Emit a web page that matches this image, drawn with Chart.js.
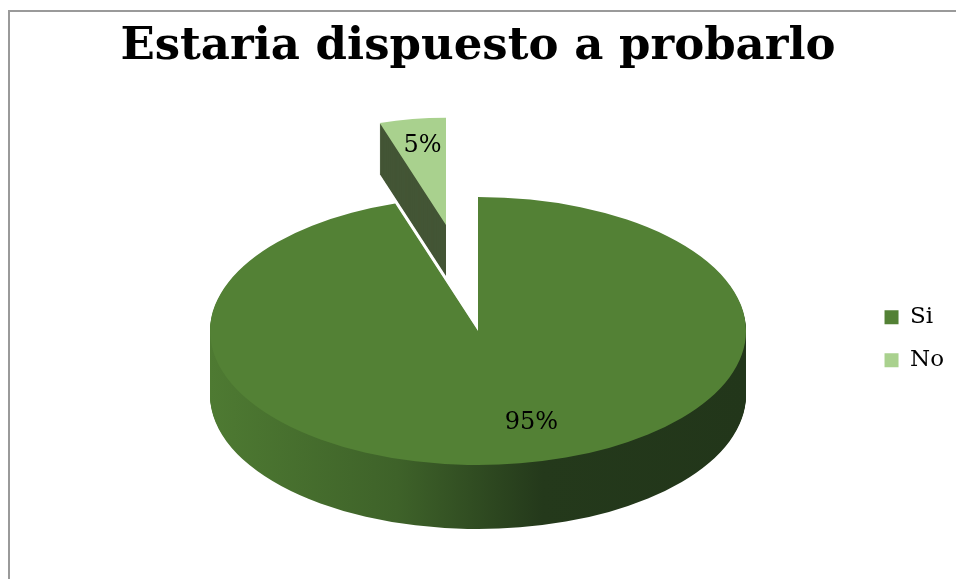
<!DOCTYPE html>
<html>
<head>
<meta charset="utf-8">
<script src="https://cdn.jsdelivr.net/npm/chart.js@4/dist/chart.umd.min.js"></script>
<style>
  html, body { margin: 0; padding: 0; background: #ffffff; overflow: hidden; }
  canvas { display: block; }
</style>
</head>
<body>
<canvas id="c" width="956" height="579"></canvas>
<script>
// ---- data ----
const categories = ['Si', 'No'];
const values = [95, 5];
const chartTitle = 'Estaria dispuesto a probarlo';

// ---- styles ----
const topColors = ['#538135', '#A9D18E'];
const FONT = 'DejaVu Serif';
const VIEW = { cx: 478, cy: 331, rx: 268, ry: 134, depth: 64 };
const explode = [[0, 0], [-32, -106]];
const perspective = [1, 0.8];
const labelRadius = [0.75, 0.7];
const labelShift = [[22, -7], [0, -5]];

const frame = {
  id: 'frame',
  beforeDraw(chart) {
    const ctx = chart.ctx;
    ctx.save();
    ctx.fillStyle = '#ffffff';
    ctx.fillRect(0, 0, chart.width, chart.height);
    ctx.strokeStyle = '#9a9a9a';
    ctx.lineWidth = 2;
    ctx.strokeRect(9, 11, 2000, 2000);
    ctx.restore();
  }
};

function drawMapped(ctx, arc, i, fill, dy) {
  const R = arc.outerRadius;
  const k = perspective[i];
  ctx.save();
  ctx.translate(VIEW.cx + explode[i][0], VIEW.cy + explode[i][1] + dy);
  ctx.scale(k * VIEW.rx / R, k * VIEW.ry / R);
  ctx.translate(-arc.x, -arc.y);
  const proxy = Object.create(arc);
  proxy.options = Object.assign({}, arc.options, { backgroundColor: fill, borderWidth: 0 });
  arc.draw.call(proxy, ctx);
  ctx.restore();
}

const pie3d = {
  id: 'pie3d',
  beforeDatasetsDraw(chart) {
    const ctx = chart.ctx;
    const meta = chart.getDatasetMeta(0);
    meta.data.forEach((arc, i) => {
      const R = arc.outerRadius;
      let sideFill;
      if (i === 0) {
        const g = ctx.createLinearGradient(arc.x - R, 0, arc.x + R, 0);
        g.addColorStop(0, '#4e7a32');
        g.addColorStop(0.35, '#3e6229');
        g.addColorStop(0.62, '#24391b');
        g.addColorStop(1, '#22361a');
        sideFill = g;
      } else {
        sideFill = '#435535';
      }
      const depth = Math.round(VIEW.depth * perspective[i]);
      for (let d = depth; d >= 1; d--) {
        drawMapped(ctx, arc, i, sideFill, d);
      }
      drawMapped(ctx, arc, i, topColors[i], 0);
    });
    // labels
    const total = values.reduce((a, b) => a + b, 0);
    ctx.save();
    ctx.fillStyle = '#000000';
    ctx.font = '24px "' + FONT + '"';
    ctx.textAlign = 'center';
    ctx.textBaseline = 'middle';
    meta.data.forEach((arc, i) => {
      const R = arc.outerRadius;
      const k = perspective[i];
      const mid = (arc.startAngle + arc.endAngle) / 2;
      const px = Math.cos(mid) * R * labelRadius[i];
      const py = Math.sin(mid) * R * labelRadius[i];
      const sx = VIEW.cx + k * px * VIEW.rx / R + explode[i][0] + labelShift[i][0];
      const sy = VIEW.cy + k * py * VIEW.ry / R + explode[i][1] + labelShift[i][1];
      ctx.fillText(Math.round(values[i] / total * 100) + '%', sx, sy);
    });
    ctx.restore();
    return false;
  }
};

new Chart(document.getElementById('c'), {
  type: 'pie',
  data: {
    labels: categories,
    datasets: [{
      data: values,
      backgroundColor: topColors,
      borderWidth: 0
    }]
  },
  options: {
    responsive: false,
    devicePixelRatio: 1,
    animation: false,
    events: [],
    layout: { padding: { top: 0, right: 2, bottom: 20, left: 2 } },
    plugins: {
      tooltip: { enabled: false },
      title: {
        display: true,
        text: chartTitle,
        color: '#000000',
        font: { family: FONT, size: 45, weight: 'bold' },
        padding: { top: 20, bottom: 10 }
      },
      legend: {
        position: 'right',
        title: { display: true, text: ' ', padding: { top: 52, bottom: 52 } },
        labels: {
          boxWidth: 14,
          boxHeight: 14,
          padding: 20,
          color: '#000000',
          font: { family: FONT, size: 23 }
        }
      }
    }
  },
  plugins: [frame, pie3d]
});
</script>
</body>
</html>
